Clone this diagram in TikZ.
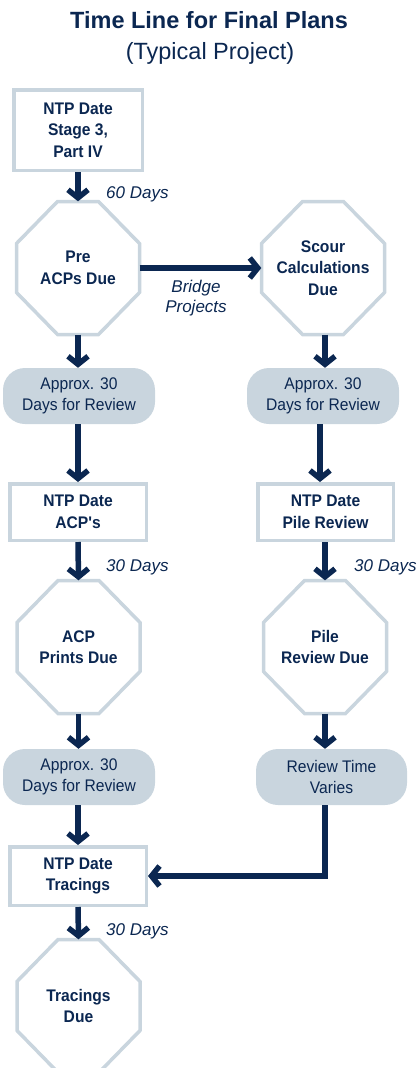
\documentclass[tikz,border=0pt]{standalone}
\usepackage{fontspec}
\setmainfont{Liberation Sans}
\newfontfamily\condfont[FakeStretch=0.93]{Liberation Sans}
\usetikzlibrary{arrows.meta}
\definecolor{navy}{HTML}{0B2751}
\definecolor{pale}{HTML}{C9D5DE}
\newcommand{\octdraw}[1]{\draw[octline, shift={(#1.center)}] (-20.5,-66.5) -- (20.5,-66.5) -- (61.5,-24.5) -- (61.5,24.5) -- (20.5,66.5) -- (-20.5,66.5) -- (-61.5,24.5) -- (-61.5,-24.5) -- cycle;}
\begin{document}
\begin{tikzpicture}[x=1pt,y=-1pt,
 every node/.style={text=navy, inner sep=0pt, align=center},
 boxnode/.style={draw=pale, line width=3.5pt, fill=white, font=\condfont\bfseries\fontsize{16.8}{21.5}\selectfont},
 octnode/.style={minimum width=123pt, minimum height=133pt, font=\condfont\bfseries\fontsize{16.8}{21.5}\selectfont},
 pill/.style={fill=pale, rounded corners=22pt, minimum width=152pt, minimum height=56pt, font=\condfont\fontsize{16.8}{20.5}\selectfont},
 octline/.style={draw=pale, line width=3.5pt, line join=miter},
 arr/.style={draw=navy, line width=5.5pt, -{Straight Barb[length=8pt,width=20pt]}},
 lbl/.style={font=\itshape\fontsize{17}{20}\selectfont}
]
\useasboundingbox (0,0) rectangle (417,1068);

% titles
\node[anchor=base, font=\bfseries\fontsize{23.5}{28}\selectfont] (title) at (209,28) {Time Line for Final Plans};
\node[anchor=base, font=\fontsize{23.5}{28}\selectfont] (subtitle) at (210,59) {(Typical Project)};

% left column
\node[boxnode, minimum width=128.5pt, minimum height=80.5pt] (b1) at (78,130) {NTP Date\\Stage 3,\\Part IV};
\node[octnode] (pre) at (78,268) {Pre\\ACPs Due};
\octdraw{pre}
\node[pill] (lp1) at (79,396) {Approx. 30\\Days for Review};
\node[boxnode, minimum width=136.5pt, minimum height=56.5pt] (b2) at (78,512) {NTP Date\\ACP's};
\node[octnode] (acp) at (78.5,647) {ACP\\Prints Due};
\octdraw{acp}
\node[pill] (lp2) at (79,777) {Approx. 30\\Days for Review};
\node[boxnode, minimum width=136.5pt, minimum height=58.5pt] (trac) at (78,876) {NTP Date\\Tracings};
\node[octnode] (tdue) at (78.5,1006) {Tracings\\Due};
\octdraw{tdue}

% right column
\node[octnode] (scour) at (323,268) {Scour\\Calculations\\Due};
\octdraw{scour}
\node[pill] (rp1) at (323,396) {Approx. 30\\Days for Review};
\node[boxnode, minimum width=135.5pt, minimum height=56.5pt] (b3) at (325.5,512) {NTP Date\\Pile Review};
\node[octnode] (pile) at (325,647) {Pile\\Review Due};
\octdraw{pile}
\node[pill, minimum width=151pt] (rp2) at (331.5,777) {Review Time\\Varies};

% labels
\node[lbl, anchor=base west] (l60) at (106,198) {60 Days};
\node[lbl] (lbridge) at (196,298) {Bridge\\Projects};
\node[lbl, anchor=base west] (l30a) at (106,571) {30 Days};
\node[lbl, anchor=base west] (l30b) at (354,571) {30 Days};
\node[lbl, anchor=base west] (l30c) at (106,935) {30 Days};

% arrows
\draw[arr] (b1.south) -- (pre.north);
\draw[arr] (pre.east) -- (scour.west);
\draw[arr] (pre.south) -- (lp1.north -| pre.south);
\draw[arr] (lp1.south -| b2.north) -- (b2.north);
\draw[arr] (b2.south) -- (acp.north);
\draw[arr] (acp.south) -- (lp2.north -| acp.south);
\draw[arr] (lp2.south -| trac.north) -- (trac.north);
\draw[arr] (trac.south) -- (tdue.north);
\draw[arr] (scour.south -| 325,0) -- (rp1.north -| 325,0);
\draw[arr] (rp1.south -| 320,0) -- (b3.north -| 320,0);
\draw[arr] (b3.south -| 325,0) -- (pile.north -| 325,0);
\draw[arr] (pile.south -| 325,0) -- (rp2.north -| 325,0);
\draw[arr] (rp2.south -| 325,0) |- (trac.east);
\end{tikzpicture}
\end{document}
